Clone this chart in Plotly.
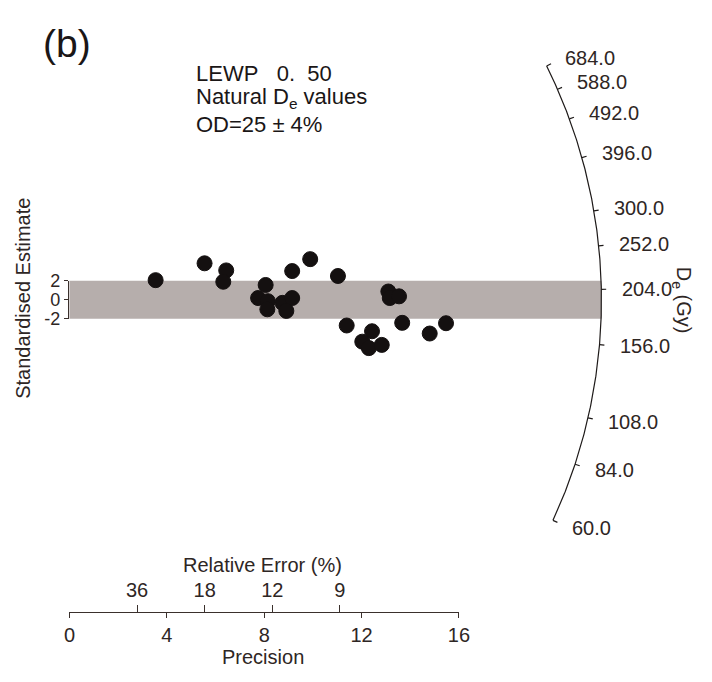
import numpy as np
import plotly.graph_objects as go

# ---------------- data ----------------
precision = [3.54, 5.55, 6.44, 6.32, 8.06, 7.75, 8.15, 8.13, 8.75, 9.15, 8.91, 9.15, 9.89,
             11.03, 13.10, 13.16, 13.54, 11.39, 12.43, 12.03, 12.30, 12.83, 13.67, 14.80, 15.47]
std_estimate = [2.07, 3.85, 3.10, 1.90, 1.56, 0.18, -0.15, -1.01, -0.33, 0.18, -1.18, 3.03, 4.29,
                2.51, 0.87, 0.18, 0.36, -2.72, -3.33, -4.43, -5.11, -4.77, -2.44, -3.57, -2.48]
central_de = 194.0
de_ticks = [60.0, 84.0, 108.0, 156.0, 204.0, 252.0, 300.0, 396.0, 492.0, 588.0, 684.0]
precision_ticks = [0, 4, 8, 12, 16]
rel_error_ticks = [36, 18, 12, 9]
std_ticks = [-2, 0, 2]

# ---------------- layout constants ----------------
W, H = 712, 682
OX, OY = 65.0, 298.5          # origin pixel
KX = 399.0 / 16.0             # px per precision unit
KY = 9.75                     # px per standardised unit
R = 545.0                     # arc radius (px)
FONT = "Liberation Sans, Arial, sans-serif"
TXT = "#2e2624"
AX = "#3a302c"

xr = [-OX / KX, (W - OX) / KX]
yr = [-(H - OY) / KY, OY / KY]


def radial_point(de, rad_px):
    s = np.log(de) - np.log(central_de)
    t = rad_px / np.hypot(KX, KY * s)
    return t, t * s


def px2paper_x(px):
    return px / W


def px2paper_y(py):
    return 1 - py / H


fig = go.Figure()

# band +-2
fig.add_shape(type="rect", xref="x", yref="y", x0=0, x1=R / KX, y0=-2, y1=2,
              fillcolor="#b6aeac", line=dict(width=0), layer="below")

# arc
arc_de = np.exp(np.linspace(np.log(de_ticks[0]), np.log(de_ticks[-1]), 300))
ax_, ay_ = radial_point(arc_de, R)
fig.add_trace(go.Scatter(x=ax_, y=ay_, mode="lines", line=dict(color="#1e1a19", width=1.2),
                         hoverinfo="skip", showlegend=False))
# arc ticks
tx, ty = [], []
for d in de_ticks:
    a = radial_point(d, R)
    b = radial_point(d, R + 5)
    tx += [a[0], b[0], None]
    ty += [a[1], b[1], None]
fig.add_trace(go.Scatter(x=tx, y=ty, mode="lines", line=dict(color="#1e1a19", width=1.2),
                         hoverinfo="skip", showlegend=False))
for d in de_ticks:
    lx, ly = radial_point(d, R + 19)
    fig.add_annotation(x=lx, y=ly, xref="x", yref="y", text=f"{d:.1f}", showarrow=False,
                       xanchor="left", yanchor="middle", font=dict(family=FONT, size=20, color=TXT))

# points
fig.add_trace(go.Scatter(x=precision, y=std_estimate, mode="markers",
                         marker=dict(size=15, color="#141010", line=dict(width=1, color="#141010")),
                         showlegend=False))

# dummy traces for extra axes
fig.add_trace(go.Scatter(x=[1], y=[0], xaxis="x2", yaxis="y", mode="markers",
                         marker=dict(opacity=0), hoverinfo="skip", showlegend=False))
fig.add_trace(go.Scatter(x=[1], y=[0], xaxis="x3", yaxis="y", mode="markers",
                         marker=dict(opacity=0), hoverinfo="skip", showlegend=False))
fig.add_trace(go.Scatter(x=[1], y=[0], xaxis="x", yaxis="y2", mode="markers",
                         marker=dict(opacity=0), hoverinfo="skip", showlegend=False))

AXIS_Y = 620.5
x_dom = [px2paper_x(OX + KX * precision_ticks[0]), px2paper_x(OX + KX * precision_ticks[-1])]
y2_dom = [px2paper_y(OY + KY * 2), px2paper_y(OY - KY * 2)]

fig.update_layout(
    width=W, height=H, autosize=False,
    margin=dict(l=0, r=0, t=0, b=0),
    paper_bgcolor="white", plot_bgcolor="rgba(0,0,0,0)",
    xaxis=dict(domain=[0, 1], range=xr, visible=False, fixedrange=True),
    yaxis=dict(domain=[0, 1], range=yr, visible=False, fixedrange=True),
    xaxis2=dict(domain=x_dom, range=[precision_ticks[0], precision_ticks[-1]], anchor="free",
                position=px2paper_y(AXIS_Y), side="bottom", showline=True, linecolor=AX, linewidth=1.3,
                ticks="outside", ticklen=5, tickwidth=1.3, tickcolor=AX, tickvals=precision_ticks,
                ticktext=[str(v) for v in precision_ticks], showgrid=False, zeroline=False,
                tickfont=dict(family=FONT, size=20, color=TXT), fixedrange=True),
    xaxis3=dict(domain=x_dom, range=[precision_ticks[0], precision_ticks[-1]], anchor="free",
                overlaying="x2",
                position=px2paper_y(AXIS_Y), side="top", showline=False,
                ticks="outside", ticklen=7, tickwidth=1.3, tickcolor=AX,
                tickvals=[100.0 / v for v in rel_error_ticks],
                ticktext=[str(v) for v in rel_error_ticks], showgrid=False, zeroline=False,
                tickfont=dict(family=FONT, size=20, color=TXT), fixedrange=True),
    yaxis2=dict(domain=y2_dom, range=[-2, 2], anchor="free", position=px2paper_x(63.5), side="left",
                showline=True, linecolor=AX, linewidth=1.3, ticks="outside", ticklen=4, tickwidth=1.3,
                tickcolor=AX, tickvals=std_ticks, ticktext=[str(v) for v in std_ticks],
                showgrid=False, zeroline=False, tickfont=dict(family=FONT, size=18, color=TXT),
                fixedrange=True),
)

# axis titles
fig.add_annotation(x=px2paper_x(263), y=px2paper_y(572), xref="paper", yref="paper",
                   text="Relative Error (%)", showarrow=False, xanchor="center", yanchor="middle",
                   font=dict(family=FONT, size=20, color=TXT))
fig.add_annotation(x=px2paper_x(263), y=px2paper_y(667), xref="paper", yref="paper",
                   text="Precision", showarrow=False, xanchor="center", yanchor="middle",
                   font=dict(family=FONT, size=20, color=TXT))
fig.add_annotation(x=px2paper_x(18), y=px2paper_y(297), xref="paper", yref="paper",
                   text="Standardised Estimate", showarrow=False, textangle=-90,
                   xanchor="center", yanchor="middle", font=dict(family=FONT, size=20, color=TXT))
fig.add_annotation(x=px2paper_x(693), y=px2paper_y(299), xref="paper", yref="paper",
                   text="D<sub>e</sub> (Gy)", showarrow=False, textangle=90,
                   xanchor="center", yanchor="middle", font=dict(family=FONT, size=20, color=TXT))

# headline texts
fig.add_annotation(x=px2paper_x(62), y=px2paper_y(35), xref="paper", yref="paper", text="(b)",
                   showarrow=False, xanchor="center", yanchor="middle",
                   font=dict(family=FONT, size=39, color="#1a1616"))
lines = ["LEWP\u00a0\u00a0 0.\u00a0 50", "Natural D<sub>e</sub> values", "OD=25 \u00b1 4%"]
for t, yy in zip(lines, [65, 91, 118]):
    fig.add_annotation(x=px2paper_x(193), y=px2paper_y(yy), xref="paper", yref="paper", text=t,
                       showarrow=False, xanchor="left", yanchor="middle",
                       font=dict(family=FONT, size=22, color="#1a1616"))

fig.write_html("out.html")
